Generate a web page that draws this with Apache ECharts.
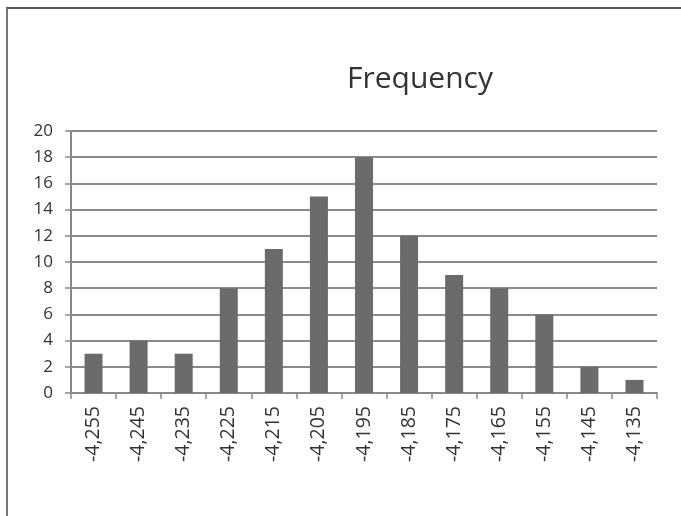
<!DOCTYPE html>
<html>
<head>
<meta charset="utf-8">
<script src="https://cdn.jsdelivr.net/npm/echarts@6/dist/echarts.min.js"></script>
<style>
  html, body { margin: 0; padding: 0; background: #fff; }
  #frame { position: absolute; left: 6px; top: 7px; width: 675px; height: 509px;
           border-top: 2px solid #555; border-left: 2px solid #777; box-sizing: border-box; }
  #chart { position: absolute; left: 0; top: 0; width: 681px; height: 516px; }
</style>
</head>
<body>
<div id="frame"></div>
<div id="chart"></div>
<script>
// Histogram bins (bin centres) and their counts
const categories = ['-4,255', '-4,245', '-4,235', '-4,225', '-4,215', '-4,205', '-4,195',
                    '-4,185', '-4,175', '-4,165', '-4,155', '-4,145', '-4,135'];
const frequency = [3, 4, 3, 8, 11, 15, 18, 12, 9, 8, 6, 2, 1];
const yTicks = { min: 0, max: 20, interval: 2 };

const chart = echarts.init(document.getElementById('chart'), null, { renderer: 'canvas' });
chart.setOption({
  animation: false,
  backgroundColor: 'transparent',
  title: {
    text: 'Frequency',
    left: 415,
    top: 59,
    textAlign: 'center',
    textStyle: { fontFamily: 'Open Sans', fontSize: 30, fontWeight: 'normal', color: '#333' }
  },
  grid: { left: 71, right: 24, top: 131, bottom: 123, containLabel: false },
  xAxis: {
    type: 'category',
    data: categories,
    axisLine: { lineStyle: { color: '#888', width: 2 } },
    axisTick: { show: true, length: 6, lineStyle: { color: '#888', width: 1.5 } },
    axisLabel: {
      rotate: 90, margin: 13, fontFamily: 'Open Sans', fontSize: 19.5, color: '#333'
    }
  },
  yAxis: {
    type: 'value',
    min: yTicks.min, max: yTicks.max, interval: yTicks.interval,
    axisLine: { show: true, lineStyle: { color: '#888', width: 2 } },
    axisTick: { show: true, length: 6, lineStyle: { color: '#888', width: 1.5 } },
    axisLabel: { margin: 18, fontFamily: 'Open Sans', fontSize: 17, color: '#333' },
    splitLine: { lineStyle: { color: '#8a8a8a', width: 2 } }
  },
  series: [{
    type: 'bar',
    data: frequency,
    barWidth: 18,
    itemStyle: { color: '#6b6b6b' }
  }]
});
</script>
</body>
</html>
